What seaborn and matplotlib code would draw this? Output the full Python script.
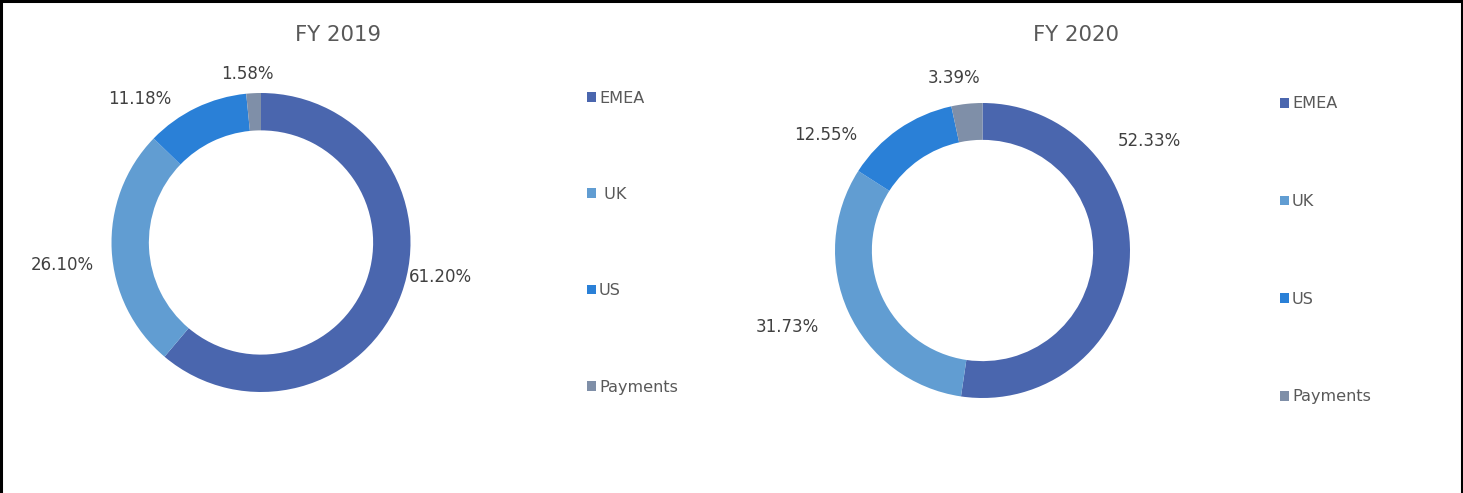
import numpy as np
import seaborn as sns
import matplotlib.pyplot as plt
from matplotlib.lines import Line2D

sns.set_theme(style="white")
plt.rcParams['font.family'] = ['DejaVu Sans']

regions = ["EMEA", "UK", "US", "Payments"]
legend_2019 = ["EMEA", " UK", "US", "Payments"]
legend_2020 = ["EMEA", "UK", "US", "Payments"]
share_2019 = [61.20, 26.10, 11.18, 1.58]
share_2020 = [52.33, 31.73, 12.55, 3.39]
colors = ["#4a66ae", "#619dd2", "#2a80d7", "#7f8fa8"]

W, H = 1463, 493
fig = plt.figure(figsize=(W / 100, H / 100), dpi=100)


def px_axes(cx, cy, r):
    return fig.add_axes([(cx - r) / W, (H - cy - r) / H, 2 * r / W, 2 * r / H])


# label placement (in units of the outer radius, relative to the centre)
label_pos_2019 = [(1.20, -0.23), (-1.33, -0.15), (-0.81, 0.96), (-0.09, 1.13)]
label_pos_2020 = [(1.13, 0.74), (-1.32, -0.52), (-1.06, 0.78), (-0.19, 1.17)]


def donut(ax, values, labels, label_pos, title, title_xy, leg_xy, spacing):
    wedges, _ = ax.pie(values, colors=colors, startangle=90, counterclock=False,
                       radius=1.0, wedgeprops=dict(width=0.25, edgecolor='none'))
    ax.set_xlim(-1, 1)
    ax.set_ylim(-1, 1)
    ax.set_aspect('equal')
    ax.axis('off')
    for v, (lx, ly) in zip(values, label_pos):
        ax.text(lx, ly, f"{v:.2f}%", ha='center', va='center', fontsize=12,
                color='#404040', clip_on=False)
    fig.text(title_xy[0] / W, 1 - title_xy[1] / H, title, ha='center', va='center',
             fontsize=15.3, color='#595959')
    fig.legend(wedges, labels, loc='upper left',
               bbox_to_anchor=(leg_xy[0] / W, 1 - leg_xy[1] / H),
               frameon=False, fontsize=11.6, labelcolor='#595959',
               handlelength=0.55, handleheight=0.55, handletextpad=0.2,
               labelspacing=spacing, borderpad=0, borderaxespad=0)


ax1 = px_axes(261, 242.5, 149.5)
donut(ax1, share_2019, legend_2019, label_pos_2019, "FY 2019", (338, 35), (587, 90.5), 5.05)

ax2 = px_axes(982.5, 250.5, 147.5)
donut(ax2, share_2020, legend_2020, label_pos_2020, "FY 2020", (1076, 35), (1280, 96.5), 5.13)

# outer frame (bottom edge is cut off in the original)
for xs, ys in [((0.001, 0.001), (0, 1)), ((0, 1), (0.998, 0.998)), ((0.9995, 0.9995), (0, 1))]:
    fig.add_artist(Line2D(xs, ys, transform=fig.transFigure, color='black', lw=2.2))

fig.savefig("out.png", dpi=100)
